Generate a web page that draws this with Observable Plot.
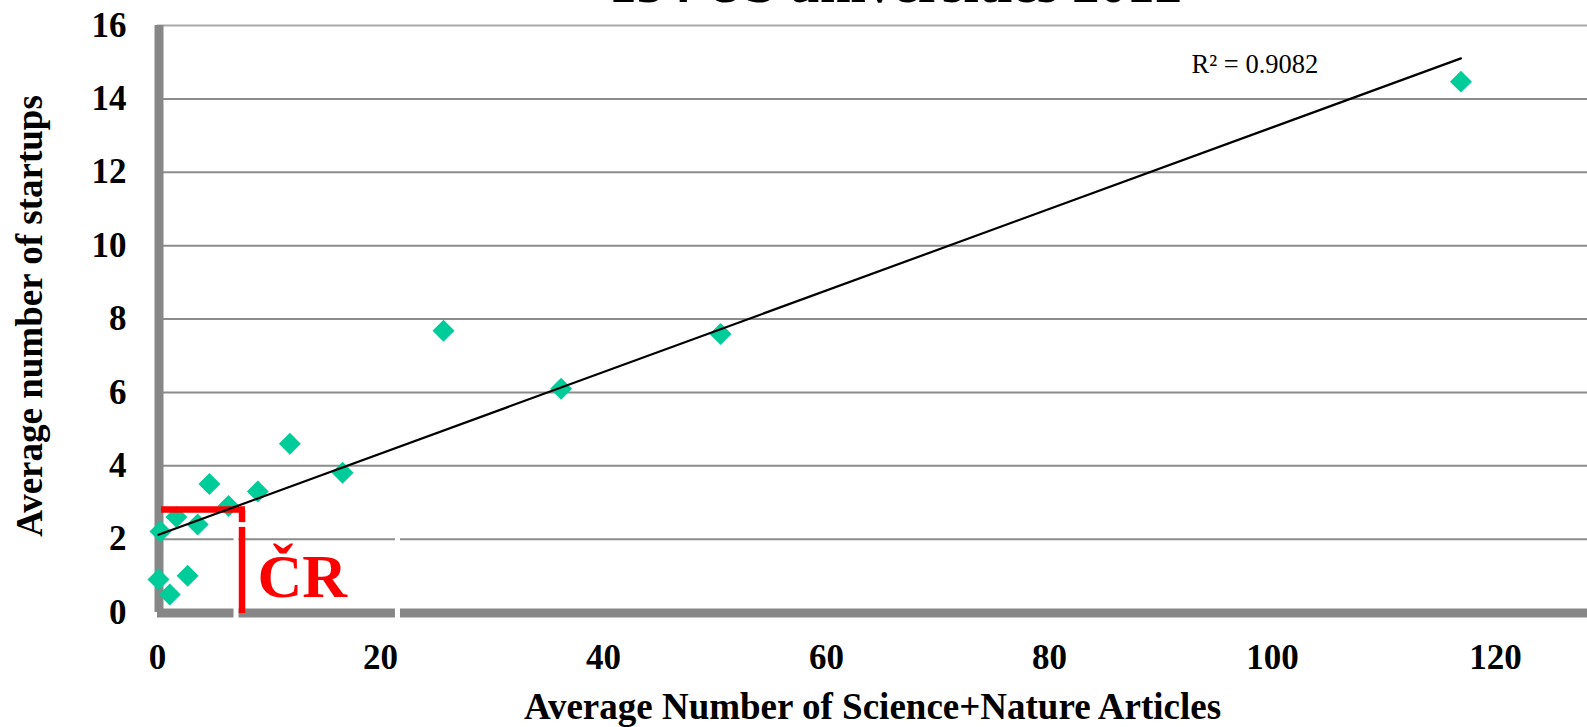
<!DOCTYPE html>
<html>
<head>
<meta charset="utf-8">
<script src="https://cdn.jsdelivr.net/npm/d3@7"></script>
<script src="https://cdn.jsdelivr.net/npm/@observablehq/plot@0.6"></script>
<style>
  html, body { margin: 0; padding: 0; background: #ffffff; overflow: hidden; }
  #chart svg { display: block; }
</style>
</head>
<body>
<div id="chart"></div>
<script>
// ---- data ----
const xArticles = [0.09, 1.1, 2.7, 0.27, 1.7, 3.6, 4.66, 6.37, 9.0, 11.87, 16.6, 25.65, 36.2, 50.5, 116.9];
const yStartups = [0.9, 0.49, 1.0, 2.21, 2.6, 2.4, 3.5, 2.9, 3.3, 4.6, 3.81, 7.68, 6.1, 7.59, 14.47];
const xTicks = [0, 20, 40, 60, 80, 100, 120];
const yTicks = [0, 2, 4, 6, 8, 10, 12, 14, 16];
const titleText = "154 US universities 2012";
const xTitle = "Average Number of Science+Nature Articles";
const yTitle = "Average number of startups";
const r2Label = ["R² = 0.9082"];
const crLabel = ["ČR"];

// annotation anchors (data units)
const xMax = 128.25;
const r2Pos = {x: 92.74, y: 14.93};
const crPos = {x: 8.97, y: 0.95};
const crBracketH = [{x1: 0.36, x2: 7.89, y: 2.806}];
const crBracketV = [{x: 7.58, y1: 2.78, y2: 2.45}, {x: 7.58, y1: 2.32, y2: -0.03}];
const whiteGaps = [7.04, 21.52];

const points = xArticles.map((x, i) => ({x, y: yStartups[i]}));

const serif = "'Liberation Serif', 'Times New Roman', serif";
const gridColor = "#8c8c8c";
const barColor = "#878787";

const chart = Plot.plot({
  width: 1587,
  height: 727,
  marginLeft: 157,
  marginRight: 0,
  marginTop: 25,
  marginBottom: 115,
  style: {fontFamily: serif, fontSize: "35px", fontWeight: "bold", background: "#ffffff", color: "#000000", overflow: "visible"},
  x: {domain: [0, xMax]},
  y: {domain: [0, 16]},
  marks: [
    // gridlines
    Plot.ruleY(yTicks.filter(d => d > 0 && d < 16), {y: d => d, x1: 0, x2: xMax, stroke: gridColor, strokeWidth: 2}),
    Plot.ruleY(yTicks.filter(d => d === 16), {y: d => d, x1: 0, x2: xMax, stroke: "#a9a9a9", strokeWidth: 2}),
    // thick gray frame (left + bottom)
    Plot.ruleY([0], {x1: 0, x2: xMax, stroke: barColor, strokeWidth: 9, dy: 0.5}),
    Plot.ruleX([0], {y1: 0, y2: 16, stroke: barColor, strokeWidth: 9, dx: 1.5}),
    // white gaps (overlay artifacts in the original)
    Plot.ruleX(whiteGaps, {x: d => d, y1: -0.2, y2: 2.15, stroke: "#ffffff", strokeWidth: 5}),
    // data points
    Plot.dot(points, {x: "x", y: "y", symbol: "diamond2", r: 9.9, fill: "#00CC99", stroke: "none"}),
    // red ČR bracket
    Plot.ruleY(crBracketH, {y: "y", x1: "x1", x2: "x2", stroke: "#ff0000", strokeWidth: 6.5}),
    Plot.ruleX(crBracketV, {x: "x", y1: "y1", y2: "y2", stroke: "#ff0000", strokeWidth: 6.5}),
    // linear trend line
    Plot.linearRegressionY(points, {x: "x", y: "y", stroke: "#000000", strokeWidth: 2.2, ci: 0}),
    // labels
    Plot.text(crLabel, {x: () => crPos.x, y: () => crPos.y, text: d => d, textAnchor: "start", lineAnchor: "middle", fontSize: 62, fontWeight: "bold", fontFamily: serif, fill: "#ff0000"}),
    Plot.text(r2Label, {x: () => r2Pos.x, y: () => r2Pos.y, text: d => d, textAnchor: "start", lineAnchor: "middle", fontSize: 26.5, fontWeight: "normal", fontFamily: serif, fill: "#000000"}),
    // axes
    Plot.axisX({ticks: xTicks, tickSize: 0, tickPadding: 32, fontSize: 35, fontWeight: "bold", label: null}),
    Plot.axisY({ticks: yTicks, tickSize: 0, tickPadding: 31, fontSize: 35, fontWeight: "bold", label: null}),
    // titles
    Plot.text([xTitle], {frameAnchor: "bottom", dy: 94.5, text: d => d, textAnchor: "middle", lineAnchor: "middle", fontSize: 37, fontWeight: "bold", fontFamily: serif, fill: "#000000"}),
    Plot.text([yTitle], {frameAnchor: "left", dx: -127, dy: -3, rotate: -90, text: d => d, textAnchor: "middle", lineAnchor: "middle", fontSize: 37, fontWeight: "bold", fontFamily: serif, fill: "#000000"}),
    Plot.text([titleText], {frameAnchor: "top", dx: 23, dy: -41, text: d => d, textAnchor: "middle", lineAnchor: "middle", fontSize: 55, fontWeight: "bold", fontFamily: serif, fill: "#000000"})
  ]
});

document.getElementById("chart").appendChild(chart);
</script>
</body>
</html>
